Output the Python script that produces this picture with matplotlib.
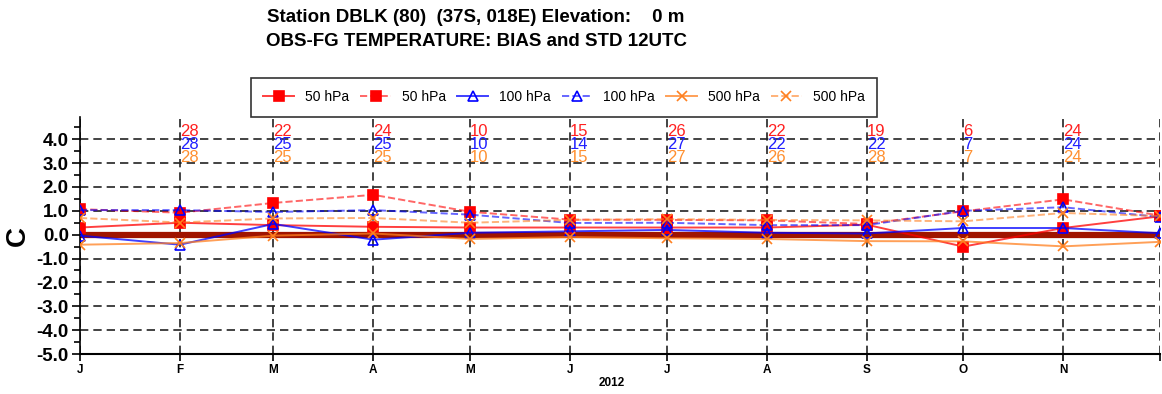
import datetime as dt
import matplotlib
matplotlib.use("Agg")
import matplotlib.pyplot as plt
from matplotlib.ticker import MultipleLocator

plt.rcParams["font.family"] = ["Liberation Sans", "DejaVu Sans"]

# monthly values, 2012 (first of each month)
months = [dt.date(2012, m, 1) for m in range(1, 13)]
month_letters = ["J", "F", "M", "A", "M", "J", "J", "A", "S", "O", "N", ""]

bias_50 = [0.3, 0.5, 0.4, 0.33, 0.3, 0.3, 0.3, 0.3, 0.42, -0.5, 0.28, 0.77]
std_50 = [1.07, 0.92, 1.33, 1.67, 0.96, 0.63, 0.62, 0.6, 0.45, 0.98, 1.48, 0.8]
bias_100 = [-0.04, -0.42, 0.45, -0.21, 0.08, 0.14, 0.2, 0.08, 0.05, 0.28, 0.28, 0.06]
std_100 = [1.03, 1.03, 0.95, 1.03, 0.84, 0.49, 0.5, 0.4, 0.4, 1.0, 1.15, 0.74]
bias_500 = [-0.42, -0.35, -0.04, 0.05, -0.18, -0.1, -0.15, -0.18, -0.27, -0.28, -0.49, -0.3]
std_500 = [0.7, 0.51, 0.68, 0.7, 0.5, 0.62, 0.65, 0.62, 0.6, 0.56, 0.91, 0.78]

# number of observations per month (Feb..Nov)
count_months = months[1:11]
n_50 = [28, 22, 24, 10, 15, 26, 22, 19, 6, 24]
n_100 = [28, 25, 25, 10, 14, 27, 22, 22, 7, 24]
n_500 = [28, 25, 25, 10, 15, 27, 26, 28, 7, 24]

RED = "#ff0000"
BLUE = "#0000ff"
ORANGE = "#ff8020"

fig = plt.figure(figsize=(11.62, 3.94), dpi=100)
ax = fig.add_axes([0.0688, 0.1015, 0.9295, 0.6015])

ax.axhline(0, color="#a01400", linewidth=4.5, zorder=2)

series = [
    (bias_50, RED, "-", "s", True),
    (std_50, RED, "--", "s", True),
    (bias_100, BLUE, "-", "^", False),
    (std_100, BLUE, "--", "^", False),
    (bias_500, ORANGE, "-", "x", False),
    (std_500, ORANGE, "--", "x", False),
]
labels = ["50 hPa", "50 hPa", "100 hPa", "100 hPa", "500 hPa", "500 hPa"]
handles = []
for (vals, col, ls, mk, filled), lab in zip(series, labels):
    la = 0.75 if ls == "-" else 0.6
    h, = ax.plot(months, vals, color=matplotlib.colors.to_rgba(col, la), linestyle=ls,
                 linewidth=1.4, marker=mk, markersize=7.5 if mk == "s" else 7,
                 markerfacecolor=col if filled else "none",
                 markeredgecolor=col, markeredgewidth=1.2, label=lab, zorder=3)
    handles.append(h)

for d, a, b, c in zip(count_months, n_50, n_100, n_500):
    ax.text(d, 4.33, str(a), color="#ff2020", fontsize=12, ha="left", va="center")
    ax.text(d, 3.76, str(b), color="#2020ff", fontsize=12, ha="left", va="center")
    ax.text(d, 3.22, str(c), color="#ff9030", fontsize=12, ha="left", va="center")

ax.set_xlim(months[0], months[-1])
ax.set_ylim(-5.0, 4.93)
ax.set_xticks(months)
ax.set_xticklabels(month_letters, fontsize=8.5, fontweight="bold")
ax.yaxis.set_minor_locator(MultipleLocator(0.5))
yt = [-5, -4, -3, -2, -1, 0, 1, 2, 3, 4]
ax.set_yticks(yt)
ax.set_yticklabels([f"{v:.1f}" for v in yt], fontsize=13.5, fontweight="bold")
ax.tick_params(axis="both", which="both", direction="out", width=1.2)
ax.tick_params(axis="y", which="major", length=6, pad=2)
ax.tick_params(axis="y", which="minor", length=4)
ax.tick_params(axis="x", length=5, pad=2)

ax.grid(True, which="major", color="#222222", linestyle=(0, (5, 3)), linewidth=1.2)
ax.spines["top"].set_visible(False)
ax.spines["right"].set_visible(False)
ax.spines["left"].set_linewidth(1.2)
ax.spines["bottom"].set_linewidth(1.5)

ax.set_ylabel("C", fontsize=20, fontweight="bold", rotation=90)
ax.yaxis.set_label_coords(-0.045, 0.5)
fig.text(612 / 1162, 1 - 383 / 394, "2012", fontsize=8.5, fontweight="bold",
         ha="center", va="center")

fig.text(476 / 1162, 1 - 18 / 394, "Station DBLK (80)  (37S, 018E) Elevation:    0 m",
         fontsize=13.5, fontweight="bold", ha="center", va="center")
fig.text(476 / 1162, 1 - 42 / 394, "OBS-FG TEMPERATURE: BIAS and STD 12UTC",
         fontsize=13.5, fontweight="bold", ha="center", va="center")

leg = fig.legend(handles=handles, loc="center", bbox_to_anchor=(564 / 1162, 1 - 97 / 394),
                 ncol=6, fontsize=10, frameon=True, fancybox=False, handlelength=2.2,
                 columnspacing=0.8, handletextpad=0.8, borderpad=0.9)
leg.get_frame().set_edgecolor("black")
leg.get_frame().set_linewidth(1.2)

fig.savefig("out.png", dpi=100)
